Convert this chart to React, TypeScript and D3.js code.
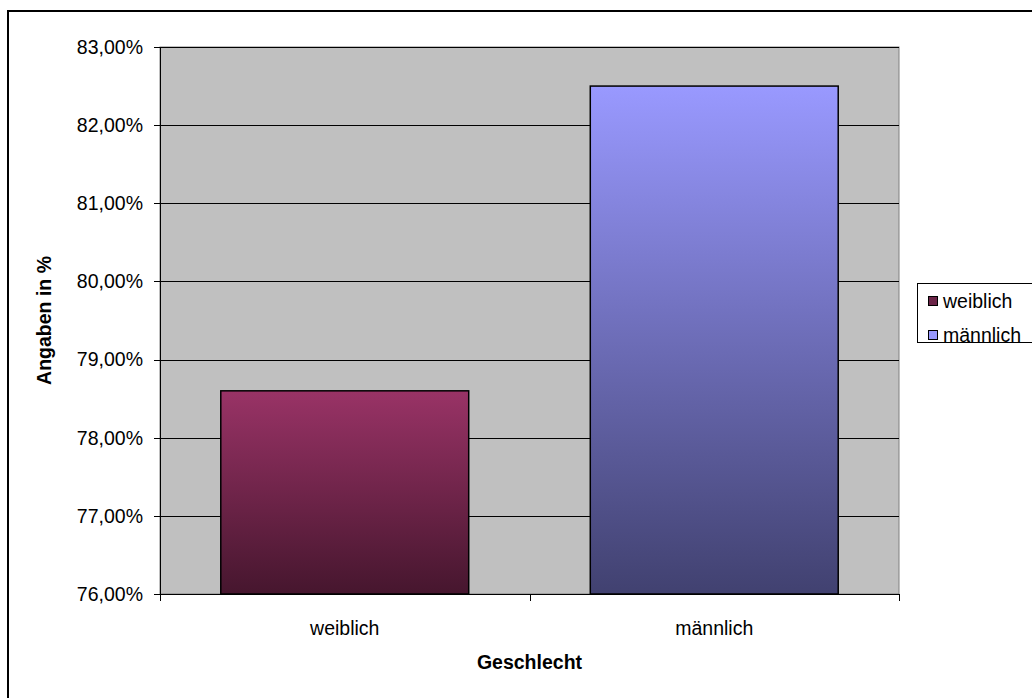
import React from "react";
import * as d3 from "d3";

const categories = ["weiblich", "männlich"];
const values = [78.6, 82.5];
const yTicks = [76, 77, 78, 79, 80, 81, 82, 83];
const seriesNames = ["weiblich", "männlich"];
const topColors = ["#993366", "#9999FF"];
const bottomColors = ["#46162E", "#414170"];

const W = 1032;
const H = 698;
const plot = { left: 160, right: 899, top: 47, bottom: 594 };
const FONT = "'Liberation Sans', Arial, sans-serif";
const FS = 19.5;

export default function App() {
  const x = d3
    .scaleBand<string>()
    .domain(categories)
    .range([plot.left, plot.right])
    .paddingInner(0.329)
    .paddingOuter(0.1645);
  const y = d3.scaleLinear().domain([76, 83]).range([plot.bottom, plot.top]);
  const fmt = (v: number) => v.toFixed(2).replace(".", ",") + "%";
  const step = (plot.right - plot.left) / categories.length;
  const xTickPos = d3.range(categories.length + 1).map((i) => plot.left + i * step);

  return (
    <svg
      width={W}
      height={H}
      style={{ position: "absolute", left: 0, top: 0, background: "#fff" }}
    >
      <defs>
        {categories.map((c, i) => (
          <linearGradient key={c} id={`g${i}`} x1="0" y1="0" x2="0" y2="1">
            <stop offset="0" stopColor={topColors[i]} />
            <stop offset="1" stopColor={bottomColors[i]} />
          </linearGradient>
        ))}
      </defs>
      {/* outer frame */}
      <line x1={8} y1={11} x2={W} y2={11} stroke="#000" strokeWidth={2} />
      <line x1={8} y1={10} x2={8} y2={H} stroke="#000" strokeWidth={2} />

      {/* plot area */}
      <rect
        x={plot.left}
        y={plot.top}
        width={plot.right - plot.left}
        height={plot.bottom - plot.top}
        fill="#C0C0C0"
        stroke="#808080"
        strokeWidth={1}
      />
      {yTicks.slice(1).map((t) => (
        <line
          key={t}
          x1={plot.left}
          x2={plot.right}
          y1={Math.round(y(t)) + 0.5}
          y2={Math.round(y(t)) + 0.5}
          stroke="#000"
          strokeWidth={1}
        />
      ))}

      {/* bars */}
      {categories.map((c, i) => (
        <rect
          key={c}
          x={x(c)!}
          y={y(values[i])}
          width={x.bandwidth()}
          height={plot.bottom - y(values[i])}
          fill={`url(#g${i})`}
          stroke="#000"
          strokeWidth={1.5}
        />
      ))}

      {/* axes */}
      <line x1={plot.left + 0.5} x2={plot.left + 0.5} y1={plot.top} y2={plot.bottom} stroke="#000" />
      <line x1={plot.left} x2={plot.right} y1={plot.bottom + 0.5} y2={plot.bottom + 0.5} stroke="#000" />
      {yTicks.map((t) => (
        <g key={t}>
          <line
            x1={plot.left - 6}
            x2={plot.left}
            y1={Math.round(y(t)) + 0.5}
            y2={Math.round(y(t)) + 0.5}
            stroke="#000"
          />
          <text
            x={143}
            y={y(t)}
            dy="0.35em"
            textAnchor="end"
            fontFamily={FONT}
            fontSize={FS}
            fill="#000"
          >
            {fmt(t)}
          </text>
        </g>
      ))}
      {xTickPos.map((p, i) => (
        <line
          key={i}
          x1={Math.round(p) + 0.5}
          x2={Math.round(p) + 0.5}
          y1={plot.bottom}
          y2={plot.bottom + 7}
          stroke="#000"
        />
      ))}
      {categories.map((c) => (
        <text
          key={c}
          x={x(c)! + x.bandwidth() / 2}
          y={635}
          textAnchor="middle"
          fontFamily={FONT}
          fontSize={FS}
          fill="#000"
        >
          {c}
        </text>
      ))}

      {/* axis titles */}
      <text
        x={(plot.left + plot.right) / 2}
        y={669}
        textAnchor="middle"
        fontFamily={FONT}
        fontSize={FS}
        fontWeight="bold"
      >
        Geschlecht
      </text>
      <text
        transform={`translate(51,${(plot.top + plot.bottom) / 2}) rotate(-90)`}
        textAnchor="middle"
        fontFamily={FONT}
        fontSize={FS}
        fontWeight="bold"
      >
        Angaben in %
      </text>

      {/* legend */}
      <rect x={917.5} y={283.5} width={130} height={59} fill="#fff" stroke="#000" />
      {seriesNames.map((s, i) => (
        <g key={s}>
          <rect
            x={928.5}
            y={296.5 + i * 34}
            width={9}
            height={9}
            fill={i === 0 ? "#6B2447" : "#9999FF"}
            stroke="#000"
          />
          <text
            x={943}
            y={301 + i * 34}
            dy="0.35em"
            fontFamily={FONT}
            fontSize={FS}
            fill="#000"
          >
            {s}
          </text>
        </g>
      ))}
    </svg>
  );
}
